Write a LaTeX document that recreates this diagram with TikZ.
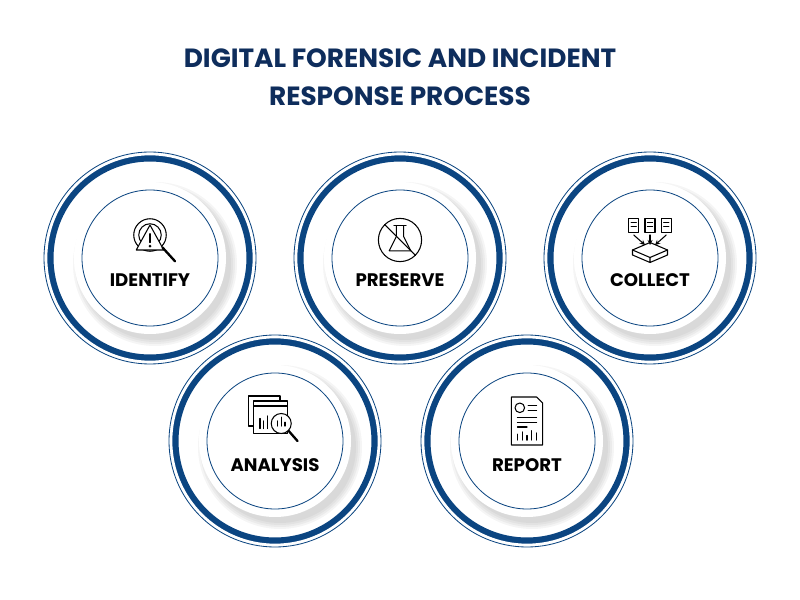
\documentclass[tikz,border=0pt]{standalone}
\usepackage{fontspec}
\setmainfont{Poppins}
\definecolor{navy}{HTML}{0B4581}
\definecolor{titlenavy}{HTML}{0E2D5C}
\tikzset{
  ringthin/.style={draw=navy, line width=0.7pt},
  ringthick/.style={draw=navy, line width=6pt},
  halo/.style={draw=white, line width=13pt},
  disc/.style={fill=white},
  steplabel/.style={font=\bfseries\fontsize{15.5}{18}\selectfont, text=black},
  icon/.style={draw=black, line width=0.9pt, line cap=round, line join=round}
}
\begin{document}
\begin{tikzpicture}[x=0.03cm, y=-0.03cm]
\useasboundingbox (0,0) rectangle (800,600);
% title
\node[font=\bfseries\fontsize{22.5}{32}\selectfont, text=titlenavy, align=center] (title) at (400,77) {DIGITAL FORENSIC AND INCIDENT\\RESPONSE PROCESS};
% rings, top row then bottom row
\foreach \name/\cx/\cy in {identify/150/258, preserve/400/258, collect/650/258, analysis/275/441, report/527/441} {
  \draw[halo] (\cx,\cy) circle (100);
  \draw[ringthick] (\cx,\cy) circle (100);
  \draw[draw=white, line width=4pt] (\cx,\cy) circle (105);
  \draw[ringthin] (\cx,\cy) circle (106);
  % soft shadow under the disc
  \foreach \r in {82,80,...,76}
    \fill[black, opacity=0.04] (\cx+5,\cy+6) circle (\r);
  \fill[disc] (\cx,\cy) circle (76);
  \draw[ringthin] (\cx,\cy) circle (68);
}
% labels
\node[steplabel] (identify) at (150,280) {IDENTIFY};
\node[steplabel] (preserve) at (400,280) {PRESERVE};
\node[steplabel] (collect) at (650,280) {COLLECT};
\node[steplabel] (analysis) at (275,465) {ANALYSIS};
\node[steplabel] (report) at (527,465) {REPORT};
% icon: identify
\begin{scope}[shift={(150,240)}, scale=1.25]
  \draw[icon] (0,-4) circle (13);
  \draw[icon] (0,-4) circle (9);
  \draw[icon, fill=white] (0,-12) -- (-11,8) -- (11,8) -- cycle;
  \draw[icon] (0,-5) -- (0,2); \fill (0,5) circle (1.2);
  \draw[icon, line width=2pt] (10,6) -- (20,17);
\end{scope}
% icon: preserve
\begin{scope}[shift={(400,240)}, scale=1.2]
  \draw[icon] (0,0) circle (18);
  \draw[icon] (-3,-12) -- (-3,-3) -- (-9,9) -- (9,9) -- (3,-3) -- (3,-12);
  \draw[icon] (-5,-12) -- (5,-12);
  \draw[icon] (-13,-13) -- (13,13);
\end{scope}
% icon: collect
\begin{scope}[shift={(650,240)}, scale=1.25]
  \foreach \dx in {-13,0,13} {
    \draw[icon] (\dx-4,-17) rectangle (\dx+4,-6);
    \draw[icon] (\dx-2,-14) -- (\dx+2,-14) (\dx-2,-11) -- (\dx+2,-11);
  }
  \draw[icon,->,>=stealth] (-13,-4) -- (-4,4);
  \draw[icon,->,>=stealth] (0,-4) -- (0,4);
  \draw[icon,->,>=stealth] (13,-4) -- (4,4);
  \draw[icon] (-14,8) -- (0,2) -- (14,8) -- (0,14) -- cycle;
  \draw[icon] (-14,8) -- (-14,12) -- (0,18) -- (14,12) -- (14,8) (0,14) -- (0,18);
\end{scope}
% icon: analysis
\begin{scope}[shift={(275,421)}, scale=1.25]
  \draw[icon] (-21,-20) rectangle (4,4);
  \draw[icon, fill=white] (-17,-16) rectangle (10,10);
  \draw[icon] (-17,-12) -- (10,-12);
  \draw[icon] (-12,6) -- (-12,-2) (-9,6) -- (-9,0) (-6,6) -- (-6,-4);
  \draw[icon, fill=white] (5,2) circle (8);
  \draw[icon] (2,4) -- (2,0) (5,4) -- (5,-3) (8,4) -- (8,1);
  \draw[icon, line width=2pt] (11,8) -- (18,16);
\end{scope}
% icon: report
\begin{scope}[shift={(527,421)}, scale=1.2]
  \draw[icon] (-13,-20) -- (8,-20) -- (13,-15) -- (13,20) -- (-13,20) -- cycle;
  \draw[icon] (-6,-11) circle (4);
  \draw[icon] (1,-13) -- (8,-13) (1,-9) -- (8,-9);
  \draw[icon] (-8,-3) -- (8,-3) (-8,1) -- (8,1) (-8,5) -- (0,5);
  \draw[icon] (-8,16) -- (-8,11) (-4,16) -- (-4,9) (0,16) -- (0,12) (4,16) -- (4,8) (8,16) -- (8,10);
\end{scope}
\end{tikzpicture}
\end{document}
